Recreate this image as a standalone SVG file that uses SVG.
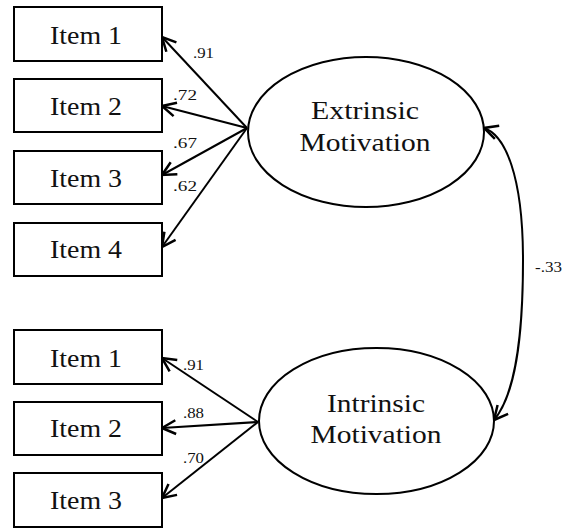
<svg xmlns="http://www.w3.org/2000/svg" width="564" height="529" viewBox="0 0 564 529">
<style>
.box{fill:#fff;stroke:#000;stroke-width:2}
.lat{fill:#fff;stroke:#000;stroke-width:2}
.t{font-family:'Liberation Serif',Tinos,'Times New Roman',Times,'Nimbus Roman',serif;fill:#111;text-anchor:middle}
.it{font-size:25px}
.lt{font-size:26px}
.w{font-family:'Liberation Serif',Tinos,'Times New Roman',Times,'Nimbus Roman',serif;font-size:14px;fill:#111}
.c{fill:none;stroke:#000;stroke-width:2}
</style>
<defs>
<marker id="ah" markerUnits="userSpaceOnUse" markerWidth="20" markerHeight="20" refX="0" refY="0" viewBox="-14 -8 16 16" orient="auto-start-reverse" overflow="visible">
<path d="M-11,-5.5 L0,0 L-11,5.5" fill="none" stroke="#000" stroke-width="2"/>
</marker>
</defs>
<g id="connectors">
<line class="c" x1="247" y1="128" x2="162" y2="37" marker-end="url(#ah)"/>
<line class="c" x1="247" y1="128" x2="162" y2="106" marker-end="url(#ah)"/>
<line class="c" x1="247" y1="128" x2="162" y2="175" marker-end="url(#ah)"/>
<line class="c" x1="247" y1="128" x2="162" y2="247" marker-end="url(#ah)"/>
<line class="c" x1="258" y1="422" x2="162" y2="358" marker-end="url(#ah)"/>
<line class="c" x1="258" y1="422" x2="162" y2="428" marker-end="url(#ah)"/>
<line class="c" x1="258" y1="422" x2="162" y2="498" marker-end="url(#ah)"/>
<path class="c" d="M484,128 C505,135 523,175 523,260 C523,340 515,395 494,420" marker-start="url(#ah)" marker-end="url(#ah)"/>
<text class="w" x="193" y="58" textLength="21" lengthAdjust="spacingAndGlyphs">.91</text>
<text class="w" x="173" y="100" textLength="24" lengthAdjust="spacingAndGlyphs">.72</text>
<text class="w" x="173" y="148" textLength="24" lengthAdjust="spacingAndGlyphs">.67</text>
<text class="w" x="173" y="191" textLength="24" lengthAdjust="spacingAndGlyphs">.62</text>
<text class="w" x="183" y="370" textLength="21" lengthAdjust="spacingAndGlyphs">.91</text>
<text class="w" x="183" y="418" textLength="21" lengthAdjust="spacingAndGlyphs">.88</text>
<text class="w" x="183" y="463" textLength="21" lengthAdjust="spacingAndGlyphs">.70</text>
<text class="w" x="535" y="272" textLength="27" lengthAdjust="spacingAndGlyphs">-.33</text>
</g>
<g id="ext-item1"><rect class="box" x="14" y="7" width="148" height="54"/><text class="t it" x="86" y="44" textLength="72" lengthAdjust="spacingAndGlyphs">Item 1</text></g>
<g id="ext-item2"><rect class="box" x="14" y="79" width="148" height="53"/><text class="t it" x="86" y="115" textLength="72" lengthAdjust="spacingAndGlyphs">Item 2</text></g>
<g id="ext-item3"><rect class="box" x="14" y="151" width="148" height="53"/><text class="t it" x="86" y="187" textLength="72" lengthAdjust="spacingAndGlyphs">Item 3</text></g>
<g id="ext-item4"><rect class="box" x="14" y="223" width="148" height="53"/><text class="t it" x="86" y="258" textLength="72" lengthAdjust="spacingAndGlyphs">Item 4</text></g>
<g id="int-item1"><rect class="box" x="14" y="330" width="148" height="54"/><text class="t it" x="86" y="367" textLength="72" lengthAdjust="spacingAndGlyphs">Item 1</text></g>
<g id="int-item2"><rect class="box" x="14" y="402" width="148" height="53"/><text class="t it" x="86" y="437" textLength="72" lengthAdjust="spacingAndGlyphs">Item 2</text></g>
<g id="int-item3"><rect class="box" x="14" y="473" width="148" height="54"/><text class="t it" x="86" y="509" textLength="72" lengthAdjust="spacingAndGlyphs">Item 3</text></g>
<g id="extrinsic"><ellipse class="lat" cx="366" cy="132" rx="118" ry="75"/><text class="t lt" x="365" y="119" textLength="108" lengthAdjust="spacingAndGlyphs">Extrinsic</text><text class="t lt" x="365" y="151" textLength="131" lengthAdjust="spacingAndGlyphs">Motivation</text></g>
<g id="intrinsic"><ellipse class="lat" cx="376.5" cy="421" rx="117.5" ry="73"/><text class="t lt" x="376" y="412" textLength="98" lengthAdjust="spacingAndGlyphs">Intrinsic</text><text class="t lt" x="376" y="443" textLength="131" lengthAdjust="spacingAndGlyphs">Motivation</text></g>
</svg>
